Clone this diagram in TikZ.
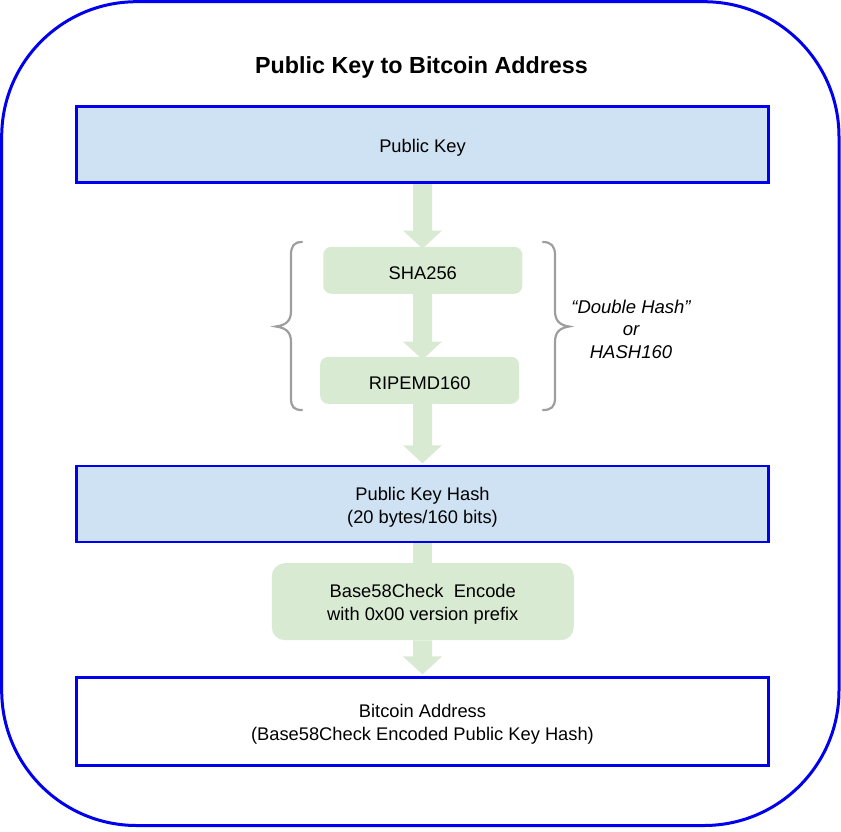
\documentclass[tikz,border=0pt]{standalone}
\usepackage{fontspec}
\setmainfont{Liberation Sans}
\usetikzlibrary{calc,backgrounds}
\definecolor{bblue}{RGB}{0,0,238}
\definecolor{lblue}{HTML}{CFE2F3}
\definecolor{lgreen}{HTML}{D9EAD3}
\definecolor{bgray}{HTML}{9E9E9E}
\newcommand{\fatarr}[2]{%
  \fill[lgreen] ($(#1)+(-9.5,0)$) -- ($(#2)+(-9.5,-18)$) -- ($(#2)+(-19.5,-18)$) -- (#2)
    -- ($(#2)+(19.5,-18)$) -- ($(#2)+(9.5,-18)$) -- ($(#1)+(9.5,0)$) -- cycle;}
\begin{document}
\begin{tikzpicture}[x=1pt,y=-1pt,
  txt/.style={font=\fontsize{18.3}{23}\selectfont, align=center, text=black, inner sep=0pt},
  lab/.style={label={[txt,yshift=-3pt]center:{#1}}},
  bigbox/.style={draw=bblue, line width=2.5pt, minimum width=691.6pt},
  hashbox/.style={fill=lgreen, rounded corners=8pt, minimum width=199pt, minimum height=47pt},
  bracestyle/.style={draw=bgray, line width=2.2pt, line cap=round}
]
\useasboundingbox (0,0) rectangle (841,831);
\draw[bblue, line width=3pt, rounded corners=135pt] (1.7,1.7) rectangle (839,825.5);

\node[font=\bfseries\fontsize{23.3}{27}\selectfont, inner sep=0pt] (title) at (421.5,67.5) {Public Key to Bitcoin Address};

\node[bigbox, fill=lblue, minimum height=76pt, lab={Public Key}] (pk) at (422.5,144.7) {};
\node[hashbox, lab={SHA256}] (sha) at (422.8,270.3) {};
\node[hashbox, lab={RIPEMD160}] (rip) at (419.7,380.3) {};
\node[bigbox, fill=lblue, minimum height=76pt, lab={Public Key Hash\\(20 bytes/160 bits)}] (pkh) at (422.5,504) {};
\node[fill=lgreen, rounded corners=13pt, minimum width=302pt, minimum height=77pt, lab={Base58Check\ \ Encode\\with 0x00 version prefix}] (b58) at (422.8,601.7) {};
\node[bigbox, fill=white, minimum height=88pt, lab={Bitcoin Address\\(Base58Check Encoded Public Key Hash)}] (ba) at (422.5,721.7) {};

\node[txt, font=\itshape\fontsize{18.5}{22.5}\selectfont] (dh) at (631,329) {“Double Hash”\\or\\HASH160};

\coordinate (axis) at (422.5,0);
\coordinate (a1s) at (axis |- pk.south);
\coordinate (a1e) at ($(axis |- sha.north)+(0,2)$);
\coordinate (a2s) at (axis |- sha.south);
\coordinate (a2e) at ($(axis |- rip.north)+(0,3)$);
\coordinate (a3s) at (axis |- rip.south);
\coordinate (a3e) at ($(axis |- pkh.north)+(0,-1.5)$);
\coordinate (a4s) at (axis |- pkh.south);
\coordinate (a4e) at ($(axis |- b58.north)+(0,2)$);
\coordinate (a5s) at (axis |- b58.south);
\coordinate (a5e) at ($(axis |- ba.north)+(0,-2)$);

\begin{scope}[on background layer]
  \fatarr{a1s}{a1e}
  \fatarr{a2s}{a2e}
  \fatarr{a3s}{a3e}
  \fill[lgreen] ($(a4s)+(-9.5,0)$) rectangle ($(a4e)+(9.5,0)$);
  \fatarr{a5s}{a5e}
\end{scope}

% braces
\draw[bracestyle] (302,242) .. controls (294,242) and (291,246) .. (291,255) -- (291,311)
  .. controls (291,320) and (287,325) .. (276,326.5)
  .. controls (287,328) and (291,333) .. (291,342) -- (291,398)
  .. controls (291,407) and (294,410) .. (302,410);
\draw[bracestyle] (543,242) .. controls (551,242) and (555,246) .. (555,255) -- (555,311)
  .. controls (555,320) and (559,325) .. (569,326.5)
  .. controls (559,328) and (555,333) .. (555,342) -- (555,398)
  .. controls (555,407) and (551,410) .. (543,410);
\end{tikzpicture}
\end{document}
